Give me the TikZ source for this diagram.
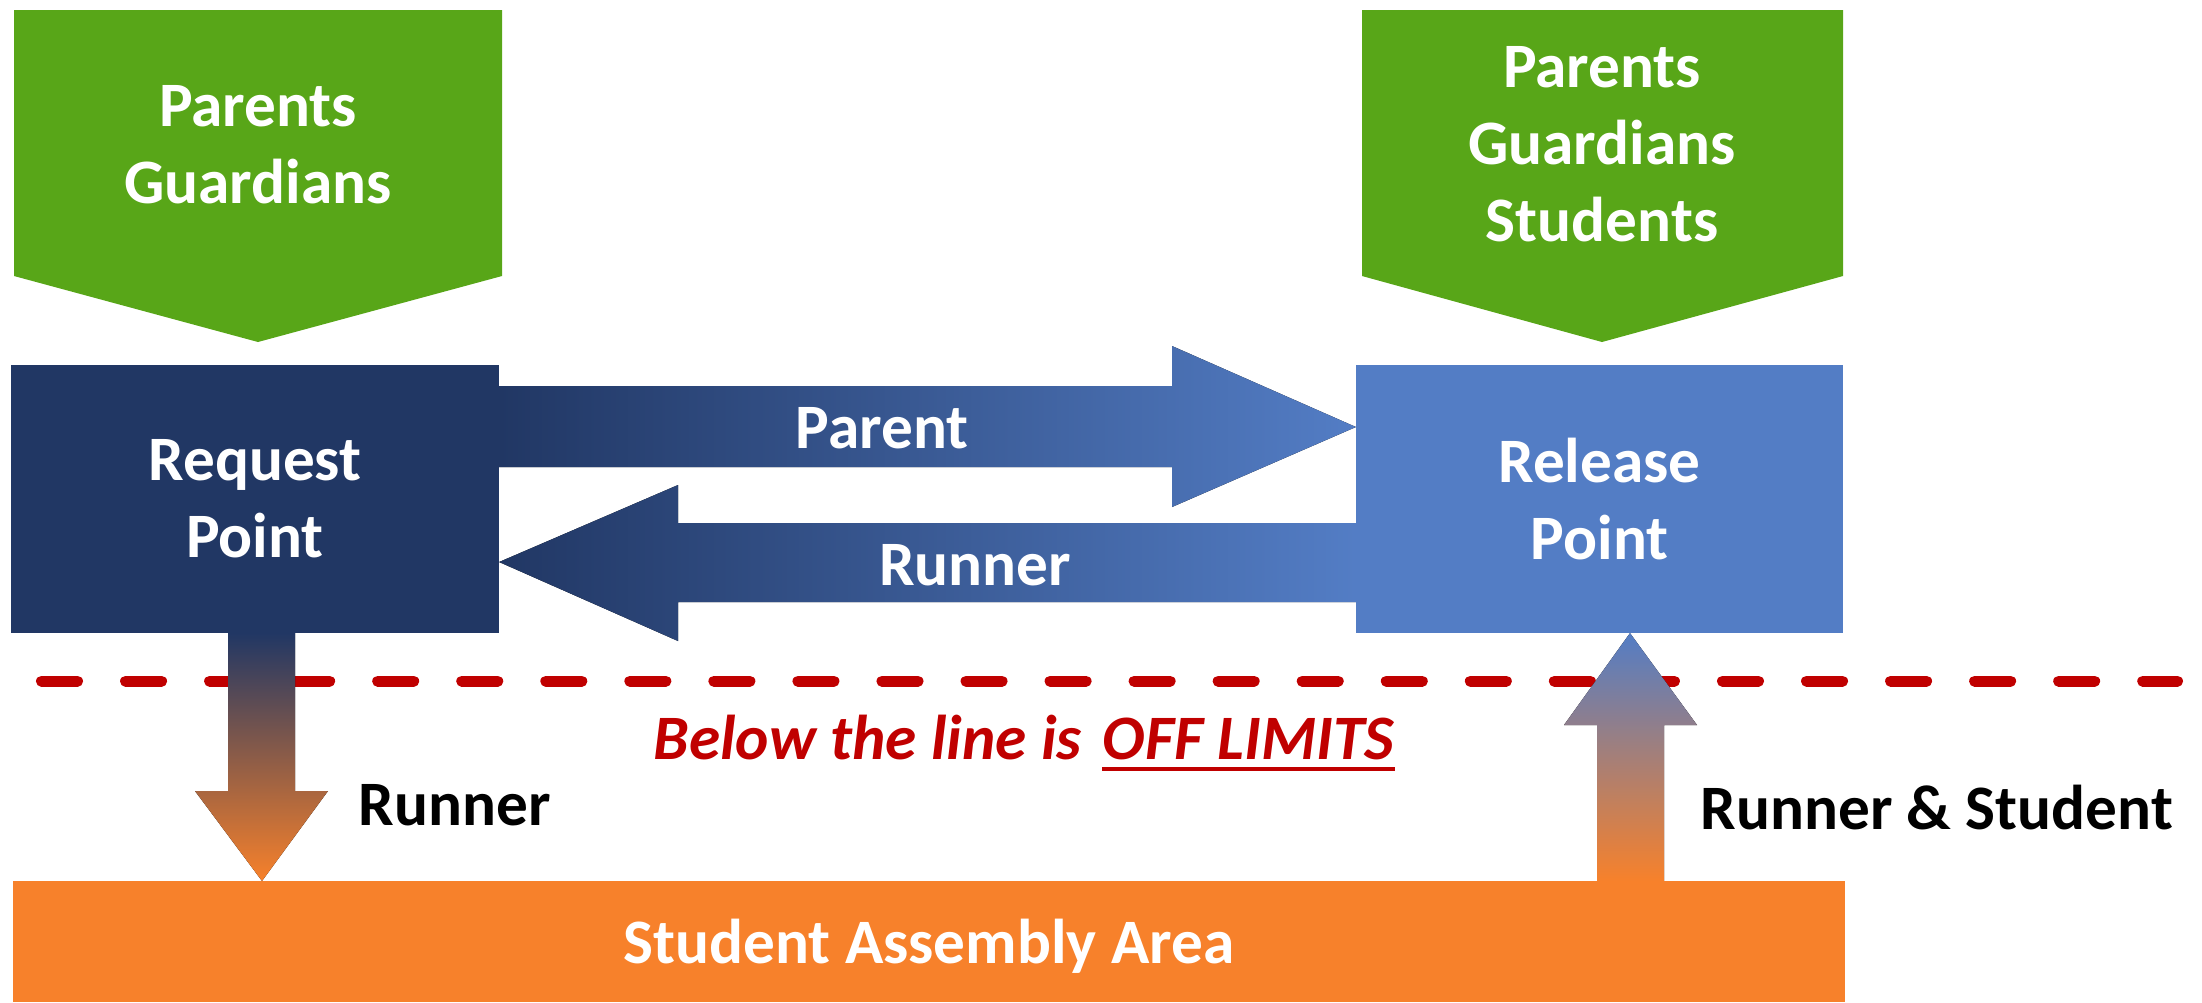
\documentclass[tikz,border=0pt]{standalone}
\usepackage{fontspec}
\setmainfont{Carlito}
\usetikzlibrary{positioning}
\definecolor{mgreen}{RGB}{88, 166, 24}
\definecolor{mnavy}{RGB}{33, 55, 100}
\definecolor{mblue}{RGB}{83, 125, 197}
\definecolor{morange}{RGB}{247, 129, 43}
\definecolor{mpink}{RGB}{200, 127, 134}
\definecolor{mred}{RGB}{192, 0, 0}
\tikzset{whitetext/.style = {text=white, font=\bfseries\fontsize{18}{21.9}\selectfont,
                             align=center, inner sep=0}}
\tikzset{block/.style = {whitetext, outer sep=0, minimum height=2.68cm}}
\tikzset{tag/.style = {font=\bfseries\fontsize{18}{21.9}\selectfont, inner sep=0}}
\tikzset{warn/.style = {tag, mred, font=\bfseries\itshape\fontsize{18}{21.9}\selectfont}}
\tikzset{offlimits/.style = {mred, line width=0.11cm, line cap=round,
                             dash pattern=on 0.36cm off 0.48cm}}

\begin{document}
\begin{tikzpicture}[x=0.01cm, y=-0.01cm]
  \useasboundingbox (0, 0) rectangle (2202, 1002);

  \fill [mgreen] (14, 10) -- (502, 10) -- (502, 276) -- (258, 342) -- (14, 276) -- cycle;
  \node [whitetext] (askers) at (258, 144.5) {Parents\\Guardians};

  \fill [mgreen] (1362, 10) -- (1843, 10) -- (1843, 276) -- (1602, 342) -- (1362, 276) -- cycle;
  \node [whitetext] (takers) at (1602, 144) {Parents\\Guardians\\Students};

  \node [block, fill=mnavy, minimum width=4.88cm] (request) at (255, 499) {Request\\Point};
  \node [block, fill=mblue, minimum width=4.87cm] (release) at (1599.5, 499) {Release\\Point};
  \node [block, fill=morange, minimum width=18.30cm, minimum height=1.21cm, text depth=0pt]
        (assembly) at (929, 941.5) {Student Assembly Area};

  \fill [left color=mnavy, right color=mblue]
        (request.east |- 0, 386) -- (1172, 386) -- (1172, 346) -- (release.west |- 0, 427)
        -- (1172, 507) -- (1172, 467) -- (request.east |- 0, 467) -- cycle;
  \node [whitetext, anchor=base] (parent) at (882, 448) {Parent};

  \fill [left color=mnavy, right color=mblue]
        (release.west |- 0, 523) -- (678, 523) -- (678, 485) -- (request.east |- 0, 562)
        -- (678, 641) -- (678, 602) -- (release.west |- 0, 602) -- cycle;
  \node [whitetext, anchor=base] (runner) at (975, 585) {Runner};

  \draw [offlimits] (41.5, 681) -- (2177.5, 681);

  \fill [top color=mnavy, bottom color=morange]
        (request.south -| 228, 0) -- (228, 791) -- (195, 791) -- (assembly.north -| 262, 0)
        -- (328, 791) -- (295, 791) -- (request.south -| 295, 0) -- cycle;
  \node [tag, anchor=base west] (fetch) at (358, 825) {Runner};

  \fill [top color=mblue, middle color=mpink, bottom color=morange]
        (assembly.north -| 1597, 0) -- (1597, 725) -- (1564, 725) -- (release.south -| 1630, 0)
        -- (1697, 725) -- (1664, 725) -- (assembly.north -| 1664, 0) -- cycle;
  \node [tag, anchor=base west] (bring) at (1700, 829) {Runner \& Student};

  \node [warn, anchor=base west] (warning) at (653, 759) {Below the line is};
  \node [warn, anchor=base west, xshift=0.2cm] (limits) at (warning.base east) {OFF LIMITS};
  \draw [mred, line width=0.04cm] ([yshift=-0.1cm]limits.base west) -- ([yshift=-0.1cm]limits.base east);
\end{tikzpicture}
\end{document}
